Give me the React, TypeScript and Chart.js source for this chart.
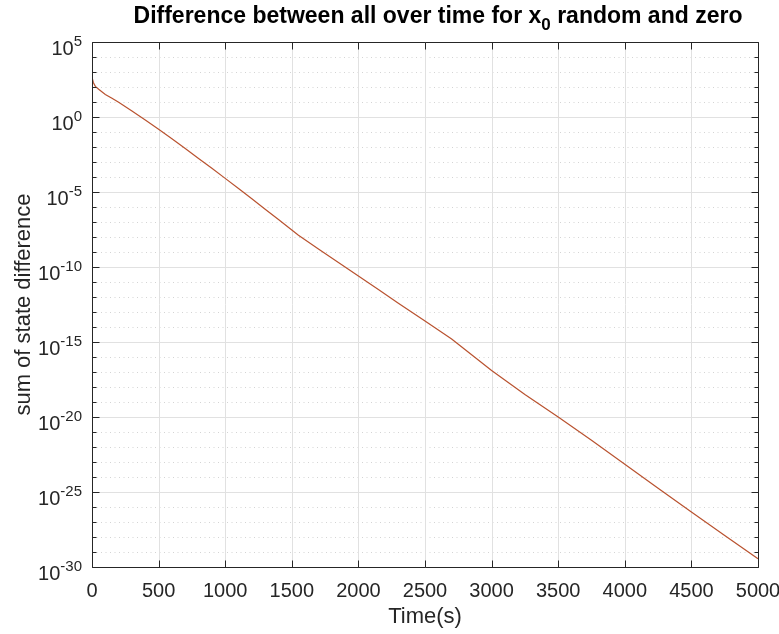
import React, { useEffect, useRef } from "react";
import { Chart, registerables } from "chart.js";

Chart.register(...registerables);

// Time in seconds
const timeS = [
  0, 10, 25, 50, 100, 150, 200, 300, 400, 500, 600, 700, 800, 900, 1000, 1100,
  1200, 1300, 1400, 1500, 1550, 1700, 1850, 2000, 2150, 2300, 2500, 2700, 2850,
  3000, 3250, 3500, 3750, 4000, 4250, 4500, 4750, 5000,
];

// Sum of state difference
const stateDiff = [
  4.5e2, 2.0e2, 1.1e2, 71, 32, 18, 9.5, 2.5, 0.63, 0.15, 3.5e-2, 7.9e-3,
  1.7e-3, 3.8e-4, 8.1e-5, 1.7e-5, 3.5e-6, 7.1e-7, 1.45e-7, 2.9e-8, 1.3e-8,
  1.6e-9, 2.0e-10, 2.5e-11, 3.2e-12, 3.8e-13, 2.5e-14, 1.6e-15, 1.4e-16,
  1.26e-17, 3.2e-19, 1.0e-20, 2.8e-22, 7.1e-24, 1.8e-25, 4.7e-27, 1.26e-28,
  3.5e-30,
];

const xTicks = [0, 500, 1000, 1500, 2000, 2500, 3000, 3500, 4000, 4500, 5000];
const yDecades = [
  -30, -29, -28, -27, -26, -25, -24, -23, -22, -21, -20, -19, -18, -17, -16,
  -15, -14, -13, -12, -11, -10, -9, -8, -7, -6, -5, -4, -3, -2, -1, 0, 1, 2, 3,
  4, 5,
];
const yLabelDecades = [-30, -25, -20, -15, -10, -5, 0, 5];

const titleMain = "Difference between all over time for x";
const titleSub = "0";
const titleRest = " random and zero";
const xLabel = "Time(s)";
const yLabel = "sum of state difference";

const FONT = "'Liberation Sans', Arial, Helvetica, sans-serif";
const AXIS = "#262626";

const matlabPlugin = {
  id: "matlabAxes",
  beforeDatasetsDraw(chart: any) {
    const { ctx, chartArea: a, scales } = chart;
    const x = scales.x;
    const y = scales.y;
    ctx.save();
    ctx.lineWidth = 1;
    // minor dotted grid
    ctx.strokeStyle = "#d4d4d4";
    ctx.setLineDash([1, 3.5]);
    for (const e of yDecades) {
      if (e % 5 === 0) continue;
      const py = Math.round(y.getPixelForValue(Math.pow(10, e))) + 0.5;
      ctx.beginPath();
      ctx.moveTo(a.left, py);
      ctx.lineTo(a.right, py);
      ctx.stroke();
    }
    ctx.setLineDash([]);
    ctx.strokeStyle = "#e1e1e1";
    for (const e of yLabelDecades) {
      const py = Math.round(y.getPixelForValue(Math.pow(10, e))) + 0.5;
      ctx.beginPath();
      ctx.moveTo(a.left, py);
      ctx.lineTo(a.right, py);
      ctx.stroke();
    }
    for (const t of xTicks) {
      const px = Math.round(x.getPixelForValue(t)) + 0.5;
      ctx.beginPath();
      ctx.moveTo(px, a.top);
      ctx.lineTo(px, a.bottom);
      ctx.stroke();
    }
    ctx.restore();
  },
  afterDatasetsDraw(chart: any) {
    const { ctx, chartArea: a, scales } = chart;
    const x = scales.x;
    const y = scales.y;
    ctx.save();
    ctx.strokeStyle = AXIS;
    ctx.lineWidth = 1;
    const L = Math.round(a.left) + 0.5;
    const R = Math.round(a.right) + 0.5;
    const T = Math.round(a.top) + 0.5;
    const B = Math.round(a.bottom) + 0.5;
    ctx.beginPath();
    ctx.rect(L, T, R - L, B - T);
    ctx.stroke();
    // x ticks
    ctx.beginPath();
    for (const t of xTicks) {
      const px = Math.round(x.getPixelForValue(t)) + 0.5;
      ctx.moveTo(px, B);
      ctx.lineTo(px, B - 7);
      ctx.moveTo(px, T);
      ctx.lineTo(px, T + 7);
    }
    // y ticks
    for (const e of yDecades) {
      const py = Math.round(y.getPixelForValue(Math.pow(10, e))) + 0.5;
      const len = e % 5 === 0 ? 7 : 4;
      ctx.moveTo(L, py);
      ctx.lineTo(L + len, py);
      ctx.moveTo(R, py);
      ctx.lineTo(R - len, py);
    }
    ctx.stroke();

    // x tick labels
    ctx.fillStyle = AXIS;
    ctx.font = `20px ${FONT}`;
    ctx.textAlign = "center";
    ctx.textBaseline = "alphabetic";
    for (const t of xTicks) {
      ctx.fillText(String(t), x.getPixelForValue(t), a.bottom + 30);
    }
    // y tick labels 10^e
    for (const e of yLabelDecades) {
      const py = y.getPixelForValue(Math.pow(10, e));
      ctx.font = `20px ${FONT}`;
      const wBase = ctx.measureText("10").width;
      ctx.font = `15px ${FONT}`;
      const exp = String(e);
      const wExp = ctx.measureText(exp).width;
      const right = a.left - 10;
      const x0 = right - wExp - wBase;
      ctx.textAlign = "left";
      ctx.font = `20px ${FONT}`;
      ctx.fillText("10", x0, py + 12.5);
      ctx.font = `15px ${FONT}`;
      ctx.fillText(exp, x0 + wBase, py + 3.5);
    }
    // axis labels
    ctx.font = `22px ${FONT}`;
    ctx.textAlign = "center";
    ctx.fillText(xLabel, (a.left + a.right) / 2, a.bottom + 56);
    ctx.save();
    ctx.translate(30, (a.top + a.bottom) / 2);
    ctx.rotate(-Math.PI / 2);
    ctx.fillText(yLabel, 0, 0);
    ctx.restore();

    // title
    ctx.fillStyle = "#000000";
    const big = `bold 23px ${FONT}`;
    const small = `bold 17px ${FONT}`;
    ctx.font = big;
    const w1 = ctx.measureText(titleMain).width;
    const w3 = ctx.measureText(titleRest).width;
    ctx.font = small;
    const w2 = ctx.measureText(titleSub).width;
    const total = w1 + w2 + w3;
    let tx = (a.left + a.right) / 2 + 13 - total / 2;
    ctx.textAlign = "left";
    ctx.font = big;
    ctx.fillText(titleMain, tx, 23);
    tx += w1;
    ctx.font = small;
    ctx.fillText(titleSub, tx, 30);
    tx += w2;
    ctx.font = big;
    ctx.fillText(titleRest, tx, 23);
    ctx.restore();
  },
};

export default function App() {
  const ref = useRef<HTMLCanvasElement | null>(null);
  useEffect(() => {
    if (!ref.current) return;
    const chart = new Chart(ref.current, {
      type: "line",
      data: {
        datasets: [
          {
            data: timeS.map((t, i) => ({ x: t, y: stateDiff[i] })),
            borderColor: "#b9522f",
            borderWidth: 1.2,
            pointRadius: 0,
            fill: false,
            tension: 0,
          },
        ],
      },
      options: {
        responsive: false,
        animation: false,
        layout: { padding: { left: 92, right: 21, top: 42, bottom: 67 } },
        plugins: {
          legend: { display: false },
          title: { display: false },
          tooltip: { enabled: false },
        },
        scales: {
          x: { type: "linear", min: 0, max: 5000, display: false },
          y: { type: "logarithmic", min: 1e-30, max: 1e5, display: false },
        },
      },
      plugins: [matlabPlugin],
    });
    return () => chart.destroy();
  }, []);
  return (
    <div style={{ position: "fixed", left: 0, top: 0, width: 779, height: 634, background: "#fff" }}>
      <canvas ref={ref} width={779} height={634} style={{ display: "block" }} />
    </div>
  );
}
